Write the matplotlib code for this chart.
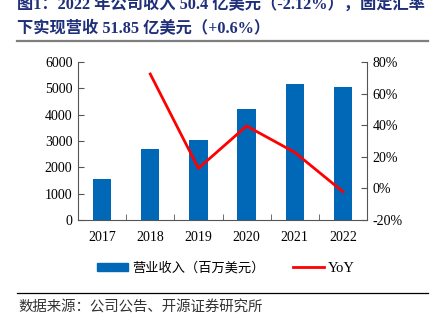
import matplotlib.pyplot as plt
from matplotlib.lines import Line2D
from matplotlib.patches import Patch
import numpy as np

# data
years = ["2017", "2018", "2019", "2020", "2021", "2022"]
revenue = [1557, 2685, 3026, 4203, 5149, 5040]      # 百万美元
yoy = [None, 72.4, 12.7, 39.5, 22.8, -2.1]           # %

pct_ticks = [-20, 0, 20, 40, 60, 80]
rev_ticks = [0, 1000, 2000, 3000, 4000, 5000, 6000]

fam = ["Liberation Serif", "Noto Sans CJK SC"]
cjk = ["Noto Sans CJK SC", "Liberation Serif"]
blue = "#0068B7"
red = "#FF0000"
axcol = "#555555"

fig = plt.figure(figsize=(4.37, 3.25), dpi=100)

# title (top of first line is cut in the original)
fig.text(17 / 437, 1 - 5 / 325,
         "图1：2022 年公司收入 50.4 亿美元（-2.12%），固定汇率",
         family=fam, fontsize=11.7, fontweight="bold", color="#1F2F7A",
         ha="left", va="center")
fig.text(17 / 437, 1 - 29 / 325,
         "下实现营收 51.85 亿美元（+0.6%）",
         family=fam, fontsize=11.7, fontweight="bold", color="#1F2F7A",
         ha="left", va="center")
fig.add_artist(Line2D([17 / 437, 428 / 437], [1 - 41 / 325] * 2,
                      color="#7F7F7F", lw=1.6))

ax = fig.add_axes([78 / 437, 1 - 220 / 325, (367 - 78) / 437, (220 - 62) / 325])
x = np.arange(len(years))
ax.bar(x, revenue, width=0.38, color=blue, zorder=2)
ax.set_xlim(-0.5, len(years) - 0.5)
ax.set_ylim(0, 6000)
ax.set_yticks(rev_ticks)
ax.set_yticklabels([str(v) for v in rev_ticks], family=fam, fontsize=10)
ax.set_xticks(x)
ax.set_xticklabels(years, family=fam, fontsize=10)
ax.set_xticks(np.arange(len(years) + 1) - 0.5, minor=True)
ax.tick_params(axis="x", which="major", length=0, pad=8)
ax.tick_params(axis="x", which="minor", length=4, direction="in", color=axcol)
ax.tick_params(axis="y", length=4, direction="in", color=axcol, pad=4)
for s in ["top", "right"]:
    ax.spines[s].set_visible(False)
for s in ["left", "bottom"]:
    ax.spines[s].set_color(axcol)

ax2 = ax.twinx()
ax2.plot(x[1:], yoy[1:], color=red, lw=2, zorder=3)
ax2.set_ylim(-20, 80)
ax2.set_yticks(pct_ticks)
ax2.set_yticklabels([f"{v}%" for v in pct_ticks], family=fam, fontsize=10)
ax2.tick_params(axis="y", length=4, direction="in", color=axcol, pad=4)
for s in ["top", "left", "bottom"]:
    ax2.spines[s].set_visible(False)
ax2.spines["right"].set_color(axcol)

handles = [Patch(color=blue), Line2D([0], [0], color=red, lw=2)]
leg = fig.legend(handles, ["营业收入（百万美元）", "YoY"], loc="center",
                 bbox_to_anchor=(226 / 437, 1 - 268 / 325), ncol=2, frameon=False,
                 prop={"family": cjk, "size": 9.5}, handlelength=2.3,
                 handleheight=0.5, columnspacing=2.2, handletextpad=0.3)
leg.get_texts()[1].set_fontfamily(fam)
leg.get_texts()[1].set_fontsize(10.5)

fig.add_artist(Line2D([17 / 437, 428 / 437], [1 - 293 / 325] * 2,
                      color="black", lw=0.9))
fig.text(18 / 437, 1 - 307 / 325, "数据来源：公司公告、开源证券研究所",
         family=cjk, fontsize=10.4, color="#333333", ha="left", va="center")

plt.savefig("out.png", dpi=100)
